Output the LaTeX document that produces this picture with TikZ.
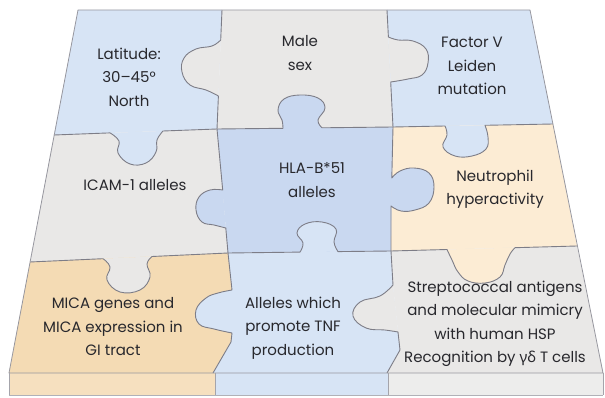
\documentclass[tikz,border=0pt]{standalone}
\usepackage{fontspec}
\setmainfont{Poppins}
\newfontfamily\grk{Noto Sans}
\definecolor{cBlue}{RGB}{215,228,245}
\definecolor{cHLA}{RGB}{201,216,240}
\definecolor{cGrey}{RGB}{233,232,231}
\definecolor{cCream}{RGB}{252,236,212}
\definecolor{cTan}{RGB}{244,219,180}
\definecolor{cLine}{RGB}{125,125,135}
\definecolor{cTxt}{RGB}{40,40,45}
\tikzset{
  edgeline/.style={draw=cLine, line width=0.9pt, line join=round},
  lbl/.style={font=\fontsize{15}{23.5}\selectfont, align=center, text=cTxt, inner sep=0pt},
  knobpath/.style={smooth, tension=0.7}
}
\newcommand\knob[4]{%
  \fill[#1] plot[knobpath] coordinates {#3} -- cycle;
  \draw[edgeline] (#2) -- plot[knobpath] coordinates {#3} -- (#4);
}
\begin{document}
\begin{tikzpicture}[x=1pt,y=-1pt]
\useasboundingbox (0,0) rectangle (605,398);
% corners
\coordinate (P00) at (78,10);  \coordinate (P01) at (222,10);
\coordinate (P02) at (387,10); \coordinate (P03) at (530,10);
\coordinate (P10) at (54,135); \coordinate (P11) at (217,129);
\coordinate (P12) at (393,127);\coordinate (P13) at (553,124);
\coordinate (P20) at (30,262); \coordinate (P21) at (228,253);
\coordinate (P22) at (391,251);\coordinate (P23) at (577,246);
\coordinate (P30) at (9,373);  \coordinate (P31) at (213,373);
\coordinate (P32) at (387,373);\coordinate (P33) at (603,373);
\coordinate (Q1) at (232,290); \coordinate (Q2) at (232,333); \coordinate (Q3) at (231,342);
\coordinate (R1) at (393,285); \coordinate (R2) at (398,332); \coordinate (R3) at (400,350);
% bottom band
\fill[cTan!85!white] (9,373) rectangle (215,395);
\fill[cBlue] (215,373) rectangle (388,395);
\fill[cGrey!80!white] (388,373) rectangle (603,395);
\draw[cLine!70!white, line width=0.8pt] (215,373) -- (215,395) (388,373) -- (388,395);
\draw[cLine!60!white, line width=1.2pt] (9,395.5) -- (603,395.5);
% cells
\fill[cBlue]  (P00) -- (P01) -- (P11) -- (P10) -- cycle;
\fill[cGrey]  (P01) -- (P02) -- (P12) -- (P11) -- cycle;
\fill[cBlue]  (P02) -- (P03) -- (P13) -- (P12) -- cycle;
\fill[cGrey]  (P10) -- (P11) -- (P21) -- (P20) -- cycle;
\fill[cHLA]   (P11) -- (P12) -- (P22) -- (P21) -- cycle;
\fill[cCream] (P12) -- (P13) -- (P23) -- (P22) -- cycle;
\fill[cTan]   (P20) -- (P21) -- (Q1) -- (Q2) -- (Q3) -- (P31) -- (P30) -- cycle;
\fill[cBlue]  (P21) -- (P22) -- (R1) -- (R2) -- (R3) -- (P32) -- (P31) -- (Q3) -- (Q2) -- (Q1) -- cycle;
\fill[cGrey]  (P22) -- (P23) -- (P33) -- (P32) -- (R3) -- (R2) -- (R1) -- cycle;
% edges with knobs
\knob{cGrey}{P01}{(220.7,40) (212,46) (196,49) (184,58) (182,72) (190,85) (206,90) (218.4,96)}{P11}
\knob{cGrey}{P02}{(388.4,37) (398,40) (413,41) (426,49) (428,63) (422,75) (408,79) (390.7,82)}{P12}
\knob{cBlue}{P10}{(110,132.9) (119,141) (118,153) (130,164) (146,163) (156,152) (157,140) (163,131)}{P11}
\knob{cHLA}{P11}{(283,128.3) (282,120) (278,110) (284,99) (300,95) (318,98) (325,108) (318,120) (322,127.8)}{P12}
\knob{cBlue}{P12}{(445,126) (447,135) (443,147) (455,156) (472,156) (486,149) (488,137) (485,125.3)}{P13}
\knob{cHLA}{P11}{(222.7,190) (210,190) (199,197) (196,210) (202,222) (214,225) (225.8,228)}{P21}
\knob{cHLA}{P12}{(391.8,178) (400,171) (414,168) (429,173) (434,187) (429,203) (415,210) (401,211) (391,206)}{P22}
\knob{cBlue}{P21}{(300,252.1) (303,243) (297,233) (305,224) (322,222) (336,229) (334,242) (338,251.6)}{P22}
\knob{cCream}{P22}{(447,249.5) (452,260) (458,272) (468,281) (485,283) (500,277) (505,265) (510,254) (515,247.7)}{P23}
\knob{cGrey}{P20}{(103,258.7) (110,267) (107,280) (120,292) (140,290) (150,277) (147,264) (152,256.5)}{P21}
\fill[cBlue] plot[knobpath] coordinates {(232,290) (218,293) (206,298) (196,310) (199,324) (214,329) (232,333)} -- cycle;
\draw[edgeline] (P21) -- plot[knobpath] coordinates {(232,290) (218,293) (206,298) (196,310) (199,324) (214,329) (232,333)} -- (Q3) -- (P31);
\fill[cGrey] plot[knobpath] coordinates {(393,285) (380,296) (360,302) (353,316) (366,328) (385,330) (398,332)} -- cycle;
\draw[edgeline] (P22) -- plot[knobpath] coordinates {(393,285) (380,296) (360,302) (353,316) (366,328) (385,330) (398,332)} -- (R3) -- (P32);
% outline
\draw[cLine!80!white, line width=0.8pt, line join=round] (P00) -- (P03) -- (P33) -- (P30) -- cycle;
\draw[cLine!70!white, line width=0.8pt] (9,373) -- (9,395) (603,373) -- (603,395);
% labels
\node[lbl] (lat) at (129,77) {Latitude:\\30--45\textdegree\\North};
\node[lbl] (male) at (300,53) {Male\\sex};
\node[lbl] (fac) at (472,66) {Factor V\\Leiden\\mutation};
\node[lbl] (icam) at (135,185) {ICAM-1 alleles};
\node[lbl] (hla) at (312,180) {HLA-B*51\\alleles};
\node[lbl] (neu) at (495,189) {Neutrophil\\hyperactivity};
\node[lbl] (mica) at (113,327) {MICA genes and\\MICA expression in\\GI tract};
\node[lbl] (tnf) at (293,328) {Alleles which\\promote TNF\\production};
\node[lbl] (strep) at (495,324) {Streptococcal antigens\\and molecular mimicry\\with human HSP\\Recognition by {\grk γδ} T cells};
\end{tikzpicture}
\end{document}
